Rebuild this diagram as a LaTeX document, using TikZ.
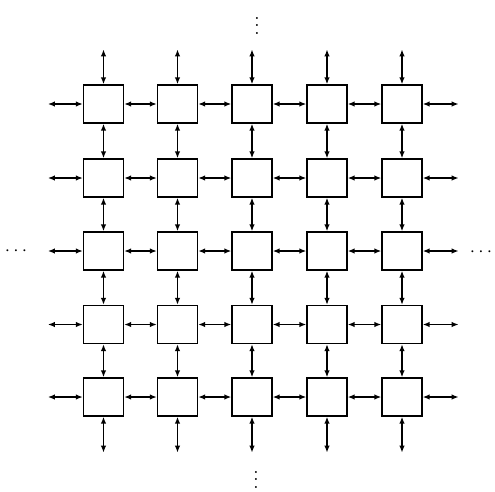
\documentclass[tikz,border=0pt]{standalone}
\usetikzlibrary{arrows.meta,calc}
\begin{document}
\begin{tikzpicture}[x=1pt,y=-1pt,
  pe/.style={draw,line width=1.3pt,minimum width=40pt,minimum height=38pt,inner sep=0pt},
  link/.style={line width=1.5pt,{Latex[length=7pt,width=5.5pt]}-{Latex[length=7pt,width=5.5pt]}},
  ell/.style={inner sep=0pt,scale=1.9}]
\useasboundingbox (0,0) rectangle (495,491);
\foreach \i/\x in {1/103.5,2/177.5,3/252,4/327,5/402}{
  \foreach \j/\y in {1/104,2/178,3/251,4/324.5,5/397}{
    \node[pe] (n\i\j) at (\x,\y) {};
  }
}
% horizontal internal links
\foreach \i [evaluate=\i as \k using int(\i+1)] in {1,2,3,4}{
  \foreach \j in {1,...,5}{
    \draw[link] (n\i\j.east) -- (n\k\j.west);
  }
}
% vertical internal links
\foreach \i in {1,...,5}{
  \foreach \j [evaluate=\j as \k using int(\j+1)] in {1,2,3,4}{
    \draw[link] (n\i\j.south) -- (n\i\k.north);
  }
}
% boundary links
\foreach \i in {1,...,5}{
  \coordinate (t\i) at ($(n\i1.north)+(0,-35)$);
  \coordinate (b\i) at ($(n\i5.south)+(0,36)$);
  \draw[link] (n\i1.north) -- (t\i);
  \draw[link] (n\i5.south) -- (b\i);
}
\foreach \j in {1,...,5}{
  \coordinate (l\j) at ($(n1\j.west)+(-35,0)$);
  \coordinate (r\j) at ($(n5\j.east)+(36,0)$);
  \draw[link] (n1\j.west) -- (l\j);
  \draw[link] (n5\j.east) -- (r\j);
}
% dots
\node[ell] (dt) at (257,20) {$\vdots$};
\node[ell] (db) at (256,474) {$\vdots$};
\node[ell] (dl) at (16,251) {$\cdots$};
\node[ell] (dr) at (481,252) {$\cdots$};
\end{tikzpicture}
\end{document}
